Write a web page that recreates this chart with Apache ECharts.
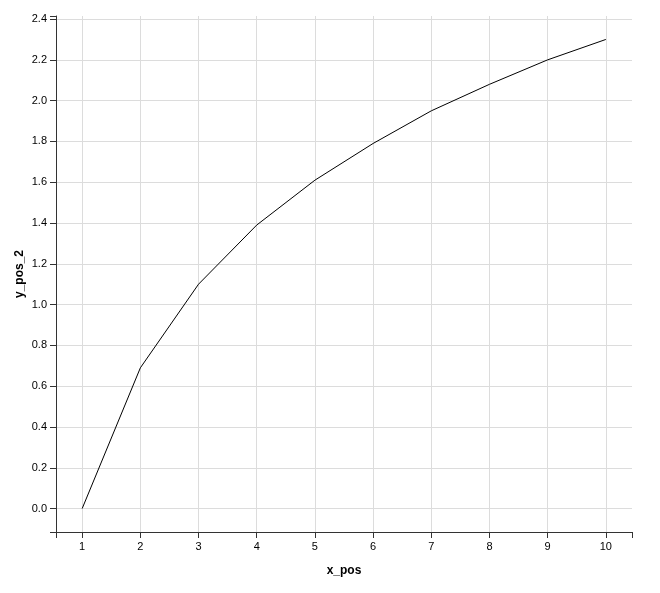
<!DOCTYPE html>
<html>
<head>
<meta charset="utf-8">
<script src="https://cdn.jsdelivr.net/npm/echarts@6/dist/echarts.min.js"></script>
<style>html,body{margin:0;padding:0;background:#fff}#c{width:660px;height:593px}</style>
</head>
<body>
<div id="c"></div>
<script>
var xValues = [1, 2, 3, 4, 5, 6, 7, 8, 9, 10];
var yValues = [0.0, 0.69, 1.10, 1.39, 1.61, 1.79, 1.95, 2.08, 2.20, 2.30];
var xTicks = [1, 2, 3, 4, 5, 6, 7, 8, 9, 10];
var yTicks = [0, 0.2, 0.4, 0.6, 0.8, 1.0, 1.2, 1.4, 1.6, 1.8, 2.0, 2.2, 2.4];
var xDomain = [0.55, 10.45];
var yDomain = [-0.115, 2.415];

var font = '"Liberation Sans", Arial, Helvetica, sans-serif';
var axisColor = '#333';
var chart = echarts.init(document.getElementById('c'), null, {renderer: 'canvas'});
var data = xValues.map(function (x, i) { return [x, yValues[i]]; });
chart.setOption({
  animation: false,
  grid: {left: 56, right: 28, top: 16, bottom: 61, containLabel: false},
  xAxis: [{
    type: 'value', min: xDomain[0], max: xDomain[1], position: 'bottom',
    name: 'x_pos', nameLocation: 'middle', nameGap: 33,
    nameTextStyle: {fontFamily: font, fontSize: 12, fontWeight: 'bold', color: '#000'},
    axisLine: {show: true, onZero: false, lineStyle: {color: axisColor, width: 1}},
    axisTick: {show: true, length: 6, customValues: xTicks, lineStyle: {color: axisColor}},
    axisLabel: {customValues: xTicks, fontFamily: font, fontSize: 11, color: '#000', margin: 9},
    splitLine: {show: true, lineStyle: {color: '#dcdcdc', width: 1}}
  }, {
    type: 'value', min: xDomain[0], max: xDomain[1], position: 'bottom',
    axisLine: {show: false, onZero: false},
    axisTick: {show: true, length: 6, customValues: xDomain, lineStyle: {color: axisColor}},
    axisLabel: {show: false},
    splitLine: {show: false}
  }],
  yAxis: [{
    type: 'value', min: yDomain[0], max: yDomain[1], position: 'left',
    axisLine: {show: true, onZero: false, lineStyle: {color: axisColor, width: 1}},
    axisTick: {show: true, length: 6, customValues: yTicks, lineStyle: {color: axisColor}},
    axisLabel: {customValues: yTicks, fontFamily: font, fontSize: 11, color: '#000', margin: 9,
      formatter: function (v) { return v.toFixed(1); }},
    splitLine: {show: true, lineStyle: {color: '#dcdcdc', width: 1}}
  }, {
    type: 'value', min: yDomain[0], max: yDomain[1], position: 'left',
    name: 'y_pos_2', nameLocation: 'middle', nameGap: 30, nameRotate: 90,
    nameTextStyle: {fontFamily: font, fontSize: 12, fontWeight: 'bold', color: '#000'},
    axisLine: {show: false, onZero: false},
    axisTick: {show: true, length: 6, customValues: yDomain, lineStyle: {color: axisColor}},
    axisLabel: {show: false},
    splitLine: {show: false}
  }],
  series: [{
    type: 'line', data: data, xAxisIndex: 0, yAxisIndex: 0,
    showSymbol: false, symbol: 'none',
    lineStyle: {color: '#000', width: 1}
  }]
});
</script>
</body>
</html>
